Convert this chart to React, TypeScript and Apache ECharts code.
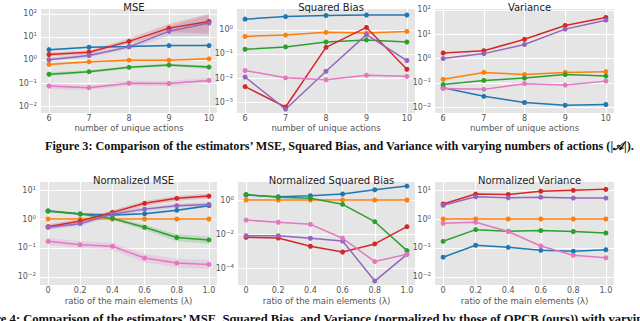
import React, { useEffect, useRef } from "react";
import * as echarts from "echarts";

// ---------- data ----------
const actionsX = [6, 7, 8, 9, 10];
const ratioX = [0, 0.2, 0.4, 0.6, 0.8, 1.0];

const titles = ["MSE", "Squared Bias", "Variance", "Normalized MSE", "Normalized Squared Bias", "Normalized Variance"];
const xAxisTitles = ["number of unique actions", "ratio of the main elements (λ)"];

// MSE vs number of actions
const mseBlue = [2.8, 3.55, 3.8, 4.2, 4.2];
const mseOrange = [0.64, 0.83, 0.98, 0.98, 1.12];
const mseGreen = [0.24, 0.31, 0.48, 0.6, 0.49];
const mseRed = [1.73, 2.16, 6.4, 24, 47];
const msePurple = [1.02, 1.56, 3.7, 17.4, 40];
const msePink = [0.074, 0.063, 0.098, 0.095, 0.13];
// MSE bands (lower / upper)
const mseBlueLo = [2.6, 3.3, 3.55, 3.9, 3.9];
const mseBlueHi = [3.0, 3.8, 4.05, 4.5, 4.5];
const mseOrangeLo = [0.57, 0.76, 0.9, 0.9, 1.02];
const mseOrangeHi = [0.72, 0.91, 1.07, 1.07, 1.23];
const mseGreenLo = [0.2, 0.27, 0.42, 0.52, 0.42];
const mseGreenHi = [0.29, 0.36, 0.55, 0.69, 0.57];
const mseRedLo = [1.45, 1.8, 5.0, 16, 14];
const mseRedHi = [2.1, 2.6, 8.5, 36, 100];
const msePurpleLo = [0.85, 1.3, 3.0, 11, 11];
const msePurpleHi = [1.25, 1.9, 4.6, 28, 90];
const msePinkLo = [0.055, 0.05, 0.078, 0.075, 0.1];
const msePinkHi = [0.1, 0.08, 0.125, 0.12, 0.17];

// Squared bias vs number of actions
const biasBlue = [2.75, 3.5, 3.9, 4.1, 4.1];
const biasOrange = [0.53, 0.6, 0.78, 0.73, 0.85];
const biasGreen = [0.155, 0.195, 0.31, 0.38, 0.31];
const biasRed = [0.0044, 0.00063, 0.186, 1.25, 0.023];
const biasPurple = [0.011, 0.00051, 0.019, 0.63, 0.053];
const biasPink = [0.0205, 0.0102, 0.0085, 0.013, 0.0117];

// Variance vs number of actions
const varBlue = [0.063, 0.028, 0.0156, 0.012, 0.0129];
const varOrange = [0.14, 0.27, 0.22, 0.27, 0.29];
const varGreen = [0.085, 0.126, 0.158, 0.22, 0.19];
const varRed = [1.7, 2.1, 6.2, 23, 49];
const varPurple = [1.0, 1.6, 3.8, 16.3, 38];
const varPink = [0.058, 0.054, 0.093, 0.081, 0.118];

// Normalized MSE vs ratio
const nmseBlue = [1.9, 1.5, 1.37, 1.52, 2.0, 2.9];
const nmseOrange = [1, 1, 1, 1, 1, 1];
const nmseGreen = [1.9, 1.5, 1.05, 0.52, 0.23, 0.19];
const nmseRed = [0.54, 0.85, 1.7, 3.5, 5.2, 6.2];
const nmsePurple = [0.52, 0.69, 1.5, 2.2, 2.9, 3.2];
const nmsePink = [0.17, 0.13, 0.115, 0.045, 0.03, 0.027];
const nmseBlueLo = [1.75, 1.38, 1.26, 1.4, 1.83, 2.65];
const nmseBlueHi = [2.05, 1.63, 1.49, 1.65, 2.18, 3.15];
const nmseGreenLo = [1.7, 1.35, 0.92, 0.42, 0.17, 0.14];
const nmseGreenHi = [2.1, 1.65, 1.2, 0.63, 0.3, 0.25];
const nmseRedLo = [0.44, 0.7, 1.45, 2.9, 4.3, 5.1];
const nmseRedHi = [0.66, 1.02, 2.0, 4.2, 6.3, 7.5];
const nmsePurpleLo = [0.43, 0.58, 1.28, 1.85, 2.45, 2.7];
const nmsePurpleHi = [0.63, 0.82, 1.75, 2.6, 3.4, 3.8];
const nmsePinkLo = [0.13, 0.1, 0.085, 0.032, 0.021, 0.019];
const nmsePinkHi = [0.22, 0.17, 0.15, 0.062, 0.042, 0.038];

// Normalized squared bias vs ratio
const nbiasBlue = [1.97, 1.56, 1.8, 2.25, 4.0, 6.6];
const nbiasOrange = [1, 1, 1, 1, 1, 1];
const nbiasGreen = [2.1, 1.45, 1.26, 0.56, 0.053, 0.00105];
const nbiasRed = [0.0064, 0.0058, 0.0019, 0.00087, 0.0026, 0.027];
const nbiasPurple = [0.0079, 0.0079, 0.0056, 0.0039, 0.000017, 0.00064];
const nbiasPink = [0.066, 0.049, 0.037, 0.0056, 0.00024, 0.00064];

// Normalized variance vs ratio
const nvarBlue = [0.048, 0.124, 0.105, 0.083, 0.077, 0.087];
const nvarOrange = [1, 1, 1, 1, 1, 1];
const nvarGreen = [0.17, 0.43, 0.38, 0.4, 0.37, 0.33];
const nvarRed = [3.3, 7.3, 7.1, 9.1, 9.8, 10.6];
const nvarPurple = [3.0, 5.9, 5.4, 5.7, 5.3, 5.3];
const nvarPink = [0.71, 0.77, 0.37, 0.117, 0.056, 0.046];

const caption3 = "Figure 3: Comparison of the estimators’ MSE, Squared Bias, and Variance with varying numbers of actions (|𝒜|).";
const caption4 = "Figure 4: Comparison of the estimators’ MSE, Squared Bias, and Variance (normalized by those of OPCB (ours)) with varying ratio of the main elements (λ).";

// ---------- styling ----------
const C = {
  blue: "#1f77b4",
  orange: "#ff7f0e",
  green: "#2ca02c",
  red: "#d62728",
  purple: "#9467bd",
  pink: "#e377c2",
};

const grids = [
  { left: 41, top: 9, width: 176, height: 104 },
  { left: 237, top: 9, width: 178, height: 104 },
  { left: 435, top: 9, width: 179, height: 104 },
  { left: 40, top: 182, width: 177, height: 103 },
  { left: 238, top: 182, width: 177, height: 103 },
  { left: 435, top: 182, width: 179, height: 103 },
];
const yRanges = [
  [-2.3, 2.21],
  [-3.45, 0.86],
  [-2.24, 2.04],
  [-2.28, 1.28],
  [-5.0, 1.06],
  [-2.28, 1.28],
];
const yTicks = [
  [-2, -1, 0, 1, 2],
  [-3, -2, -1, 0],
  [-2, -1, 0, 1, 2],
  [-2, -1, 0, 1],
  [-4, -2, 0],
  [-2, -1, 0, 1],
];

type Line = { color: string; v: number[]; lo?: number[]; hi?: number[] };
const panels: { x: number[]; lines: Line[] }[] = [
  {
    x: actionsX,
    lines: [
      { color: C.blue, v: mseBlue, lo: mseBlueLo, hi: mseBlueHi },
      { color: C.orange, v: mseOrange, lo: mseOrangeLo, hi: mseOrangeHi },
      { color: C.green, v: mseGreen, lo: mseGreenLo, hi: mseGreenHi },
      { color: C.red, v: mseRed, lo: mseRedLo, hi: mseRedHi },
      { color: C.purple, v: msePurple, lo: msePurpleLo, hi: msePurpleHi },
      { color: C.pink, v: msePink, lo: msePinkLo, hi: msePinkHi },
    ],
  },
  {
    x: actionsX,
    lines: [
      { color: C.blue, v: biasBlue },
      { color: C.orange, v: biasOrange },
      { color: C.green, v: biasGreen },
      { color: C.red, v: biasRed },
      { color: C.purple, v: biasPurple },
      { color: C.pink, v: biasPink },
    ],
  },
  {
    x: actionsX,
    lines: [
      { color: C.blue, v: varBlue },
      { color: C.orange, v: varOrange },
      { color: C.green, v: varGreen },
      { color: C.red, v: varRed },
      { color: C.purple, v: varPurple },
      { color: C.pink, v: varPink },
    ],
  },
  {
    x: ratioX,
    lines: [
      { color: C.blue, v: nmseBlue, lo: nmseBlueLo, hi: nmseBlueHi },
      { color: C.orange, v: nmseOrange },
      { color: C.green, v: nmseGreen, lo: nmseGreenLo, hi: nmseGreenHi },
      { color: C.red, v: nmseRed, lo: nmseRedLo, hi: nmseRedHi },
      { color: C.purple, v: nmsePurple, lo: nmsePurpleLo, hi: nmsePurpleHi },
      { color: C.pink, v: nmsePink, lo: nmsePinkLo, hi: nmsePinkHi },
    ],
  },
  {
    x: ratioX,
    lines: [
      { color: C.blue, v: nbiasBlue },
      { color: C.orange, v: nbiasOrange },
      { color: C.green, v: nbiasGreen },
      { color: C.red, v: nbiasRed },
      { color: C.purple, v: nbiasPurple },
      { color: C.pink, v: nbiasPink },
    ],
  },
  {
    x: ratioX,
    lines: [
      { color: C.blue, v: nvarBlue },
      { color: C.orange, v: nvarOrange },
      { color: C.green, v: nvarGreen },
      { color: C.red, v: nvarRed },
      { color: C.purple, v: nvarPurple },
      { color: C.pink, v: nvarPink },
    ],
  },
];

const lg = (v: number) => Math.log10(v);
const TICK = "#555555";
const FONT = "DejaVu Sans";

function buildOption() {
  const series: any[] = [];
  panels.forEach((p, i) => {
    p.lines.forEach((ln) => {
      if (ln.lo && ln.hi) {
        const xs = p.x;
        const lo = ln.lo.map(lg);
        const hi = ln.hi.map(lg);
        series.push({
          type: "custom",
          xAxisIndex: i,
          yAxisIndex: i,
          silent: true,
          z: 1,
          clip: true,
          data: xs.map((x, k) => [x, lo[k], hi[k]]),
          encode: { x: 0, y: [1, 2] },
          renderItem: (params: any, api: any) => {
            const k = params.dataIndex;
            if (k >= xs.length - 1) return { type: "group", children: [] };
            const pts = [
              api.coord([xs[k], lo[k]]),
              api.coord([xs[k + 1], lo[k + 1]]),
              api.coord([xs[k + 1], hi[k + 1]]),
              api.coord([xs[k], hi[k]]),
            ];
            return {
              type: "polygon",
              shape: { points: pts },
              style: { fill: ln.color, opacity: 0.2 },
            };
          },
        });
      }
    });
    p.lines.forEach((ln) => {
      series.push({
        type: "line",
        xAxisIndex: i,
        yAxisIndex: i,
        z: 3,
        data: p.x.map((x, k) => [x, lg(ln.v[k])]),
        symbol: "circle",
        symbolSize: 5,
        showSymbol: true,
        lineStyle: { color: ln.color, width: 1.5 },
        itemStyle: { color: ln.color },
        silent: true,
      });
    });
  });

  const xAxis = grids.map((_, i) => {
    const top = i < 3;
    return {
      type: "value",
      gridIndex: i,
      min: top ? 5.8 : -0.05,
      max: top ? 10.2 : 1.05,
      axisLine: { show: false },
      axisTick: { show: false, customValues: top ? actionsX : ratioX },
      splitLine: { show: true, lineStyle: { color: "#ffffff", width: 1 } },
      axisLabel: {
        customValues: top ? actionsX : ratioX,
        color: TICK,
        fontSize: 8,
        fontFamily: FONT,
        margin: 1,
        formatter: (v: number) => (top ? String(v) : v === 0 ? "0" : v.toFixed(1)),
      },
      name: top ? xAxisTitles[0] : xAxisTitles[1],
      nameLocation: "middle",
      nameGap: top ? 10 : 11,
      nameTextStyle: { color: TICK, fontSize: 8.5, fontFamily: FONT },
    };
  });

  const yAxis = grids.map((_, i) => ({
    type: "value",
    gridIndex: i,
    min: yRanges[i][0],
    max: yRanges[i][1],
    axisLine: { show: false },
    axisTick: { show: false, customValues: yTicks[i] },
    splitLine: { show: true, lineStyle: { color: "#ffffff", width: 1 } },
    axisLabel: {
      customValues: yTicks[i],
      margin: 4,
      formatter: (v: number) => `{b|10}{s|${v < 0 ? "−" + Math.abs(v) : v}}`,
      rich: {
        b: { color: TICK, fontSize: 8, fontFamily: FONT },
        s: { color: TICK, fontSize: 5.5, fontFamily: FONT, padding: [0, 0, 5, 0] },
      },
    },
  }));

  const title = grids.map((g, i) => ({
    text: titles[i],
    left: g.left + g.width / 2,
    top: g.top - 12,
    textAlign: "center",
    textStyle: { fontSize: 10, fontWeight: "normal", color: "#222", fontFamily: FONT },
  }));

  return {
    animation: false,
    backgroundColor: "#ffffff",
    title,
    grid: grids.map((g) => ({
      ...g,
      show: true,
      backgroundColor: "#E5E5E5",
      borderWidth: 0,
      containLabel: false,
    })),
    xAxis,
    yAxis,
    series,
    graphic: [
      {
        type: "text",
        left: 45,
        top: 140,
        style: {
          text: caption3,
          font: "bold 12.2px 'Liberation Serif'",
          fill: "#111",
        },
      },
      {
        type: "text",
        x: -29,
        y: 312,
        style: {
          text: caption4,
          font: "bold 12.6px 'Liberation Serif'",
          fill: "#111",
        },
      },
    ],
  };
}

export default function App() {
  const ref = useRef<HTMLDivElement>(null);
  useEffect(() => {
    if (!ref.current) return;
    const chart = echarts.init(ref.current, undefined, { renderer: "svg" });
    chart.setOption(buildOption() as any);
    return () => chart.dispose();
  }, []);
  return (
    <div
      ref={ref}
      style={{ position: "fixed", left: 0, top: 0, width: 640, height: 321 }}
    />
  );
}
